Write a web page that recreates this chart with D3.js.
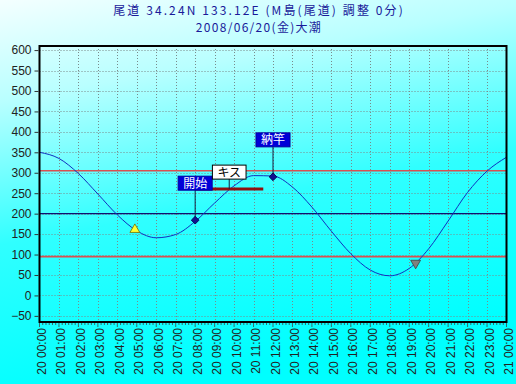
<!DOCTYPE html>
<html><head><meta charset="utf-8">
<script src="https://cdn.jsdelivr.net/npm/d3@7"></script>
<style>html,body{margin:0;padding:0;}svg{display:block;}</style>
</head><body>
<script>
// ---- data ----
const titleLines = ["尾道 34.24N 133.12E (M島(尾道) 調整 0分)", "2008/06/20(金)大潮"];
const hours = [0,1,2,3,4,5,6,7,8,9,10,11,12,13,14,15,16,17,18,19,20,21,22,23,24];
const tide  = [350,335,298,248,197,158,141,149,181,226,268,293,292,265,216,157,102,62,48,66,114,182,252,304,338];
const tickLabels = ["20 00:00","20 01:00","20 02:00","20 03:00","20 04:00","20 05:00","20 06:00","20 07:00","20 08:00","20 09:00","20 10:00","20 11:00","20 12:00","20 13:00","20 14:00","20 15:00","20 16:00","20 17:00","20 18:00","20 19:00","20 20:00","20 21:00","20 22:00","20 23:00","21 00:00"];
const yTicks = [600,550,500,450,400,350,300,250,200,150,100,50,0,-50];
const redLevels = [305, 95];
const navyLevels = [200];
const eventNames = ["開始", "納竿"];
const eventTimes = [8, 12];
const eventLevels = [184, 290];
const catchName = "キス";
const catchTime = 9.75;
const catchLevel = 260;
const catchRange = [8, 11.5];
const sunNames = ["sunrise", "sunset"];
const sunTimes = [4.9, 19.33];
const sunLevels = [161, 79];

// ---- layout ----
const W = 516, H = 384;
const svg = d3.select("body").append("svg").attr("width", W).attr("height", H);
const defs = svg.append("defs");
const g = defs.append("linearGradient").attr("id","bg").attr("x1",0).attr("y1",0).attr("x2",0.25).attr("y2",1);
g.append("stop").attr("offset","0%").attr("stop-color","#f4ffff");
g.append("stop").attr("offset","25%").attr("stop-color","#b8ffff");
g.append("stop").attr("offset","60%").attr("stop-color","#30ffff");
g.append("stop").attr("offset","100%").attr("stop-color","#00ffff");
svg.append("rect").attr("width",W).attr("height",H).attr("fill","url(#bg)");

const L = 39.5, R = 506.5, T = 46, B = 322;
const x = d3.scaleLinear().domain([0,24]).range([L,R]);
const y = d3.scaleLinear().domain([-65,610]).range([B,T]);

// title
svg.selectAll("text.title").data(titleLines).join("text")
  .attr("class","title")
  .attr("x", 259).attr("y", (d,i)=> 15 + i*17)
  .attr("text-anchor","middle")
  .attr("font-family","'Noto Sans CJK JP', sans-serif")
  .attr("font-size", 12)
  .attr("letter-spacing", (d,i)=> i===0 ? 2.1 : 1.3)
  .attr("fill","#1a1a9a").text(d=>d);

// grid
const grid = svg.append("g").attr("stroke","#7a8a8a").attr("stroke-width",1).attr("stroke-dasharray","1,2");
grid.selectAll("line.h").data(yTicks).join("line")
  .attr("x1",L).attr("x2",R).attr("y1",d=>Math.round(y(d))+0.5).attr("y2",d=>Math.round(y(d))+0.5);
grid.selectAll("line.v").data(hours.slice(1,-1)).join("line")
  .attr("y1",T).attr("y2",B).attr("x1",d=>Math.round(x(d))+0.5).attr("x2",d=>Math.round(x(d))+0.5);

// reference lines
svg.selectAll("line.red").data(redLevels).join("line")
  .attr("x1",L).attr("x2",R).attr("y1",d=>y(d)).attr("y2",d=>y(d))
  .attr("stroke","#d85050").attr("stroke-width",1.6);
svg.selectAll("line.navy").data(navyLevels).join("line")
  .attr("x1",L).attr("x2",R).attr("y1",d=>y(d)).attr("y2",d=>y(d))
  .attr("stroke","#101070").attr("stroke-width",1.3);

// tide curve
const pts = hours.map((h,i)=>[h, tide[i]]);
svg.append("path").datum(pts)
  .attr("d", d3.line().x(d=>x(d[0])).y(d=>y(d[1])).curve(d3.curveMonotoneX))
  .attr("fill","none").attr("stroke","#1030c0").attr("stroke-width",1);

// catch bar
svg.append("line")
  .attr("x1",x(catchRange[0])).attr("x2",x(catchRange[1]))
  .attr("y1",y(catchLevel)).attr("y2",y(catchLevel))
  .attr("stroke","#901010").attr("stroke-width",3);

// frame
svg.append("rect").attr("x",L).attr("y",T).attr("width",R-L).attr("height",B-T)
  .attr("fill","none").attr("stroke","#000").attr("stroke-width",2);

// axes
const yAxis = d3.axisLeft(y).tickValues(yTicks).tickSize(4).tickPadding(3);
const ya = svg.append("g").attr("transform",`translate(${L-1},0)`).call(yAxis);
ya.select(".domain").remove();
ya.selectAll("text").attr("font-family","'Liberation Sans', Arial, sans-serif").attr("font-size",12).attr("fill","#222");
ya.selectAll("line").attr("stroke","#333");

const xMinor = d3.range(0, 24*6+1).map(d=>d/6);
svg.append("g").selectAll("line").data(xMinor).join("line")
  .attr("x1",d=>x(d)).attr("x2",d=>x(d)).attr("y1",B+1).attr("y2",d=> (Math.abs(d-Math.round(d))<1e-6)? B+5 : B+3)
  .attr("stroke","#444").attr("stroke-width",0.8);

svg.append("g").selectAll("text").data(tickLabels).join("text")
  .attr("transform",(d,i)=>`translate(${x(hours[i])+6.5},${B+6}) rotate(-90)`)
  .attr("text-anchor","end")
  .attr("font-family","'Liberation Sans', Arial, sans-serif").attr("font-size",12).attr("fill","#222")
  .text(d=>d);

// sun markers
const sunSym = d3.symbol().type(d3.symbolTriangle).size(42);
svg.selectAll("path.sun").data(sunNames).join("path")
  .attr("d", sunSym)
  .attr("transform",(d,i)=>`translate(${x(sunTimes[i])},${y(sunLevels[i])}) rotate(${i===0?0:180})`)
  .attr("fill",(d,i)=> i===0 ? "#ffff30" : "#808080")
  .attr("stroke",(d,i)=> i===0 ? "#707000" : "#404040").attr("stroke-width",0.8);

// event markers
const boxH = 14;
function labelBox(cx, cy, text, bg, fg, border){
  const t = svg.append("text").attr("x",cx).attr("y",cy+4.5).attr("text-anchor","middle")
    .attr("font-family","'Noto Sans CJK JP', sans-serif").attr("font-size",12).attr("fill",fg).text(text);
  const w = t.node().getComputedTextLength() + 10;
  svg.insert("rect", () => t.node()).attr("x",cx-w/2).attr("y",cy-boxH/2).attr("width",w).attr("height",boxH)
    .attr("fill",bg).attr("stroke",border).attr("stroke-width",1);
}
eventNames.forEach((n,i)=>{
  const px = x(eventTimes[i]), py = y(eventLevels[i]);
  svg.append("line").attr("x1",px).attr("x2",px).attr("y1",py).attr("y2",py-37).attr("stroke","#102040").attr("stroke-width",1);
  svg.append("path").attr("d", d3.symbol().type(d3.symbolSquare).size(30))
    .attr("transform",`translate(${px},${py}) rotate(45)`).attr("fill","#101090").attr("stroke","#000050").attr("stroke-width",0.8);
  labelBox(px, py-37, n, "#0000d8", "#ffffff", "#0000a0");
});
{
  const px = x(catchTime), py = y(catchLevel);
  svg.append("line").attr("x1",px).attr("x2",px).attr("y1",py).attr("y2",py-17).attr("stroke","#102040").attr("stroke-width",1);
  labelBox(px, py-17, catchName, "#ffffff", "#000000", "#000000");
}
</script>
</body></html>
